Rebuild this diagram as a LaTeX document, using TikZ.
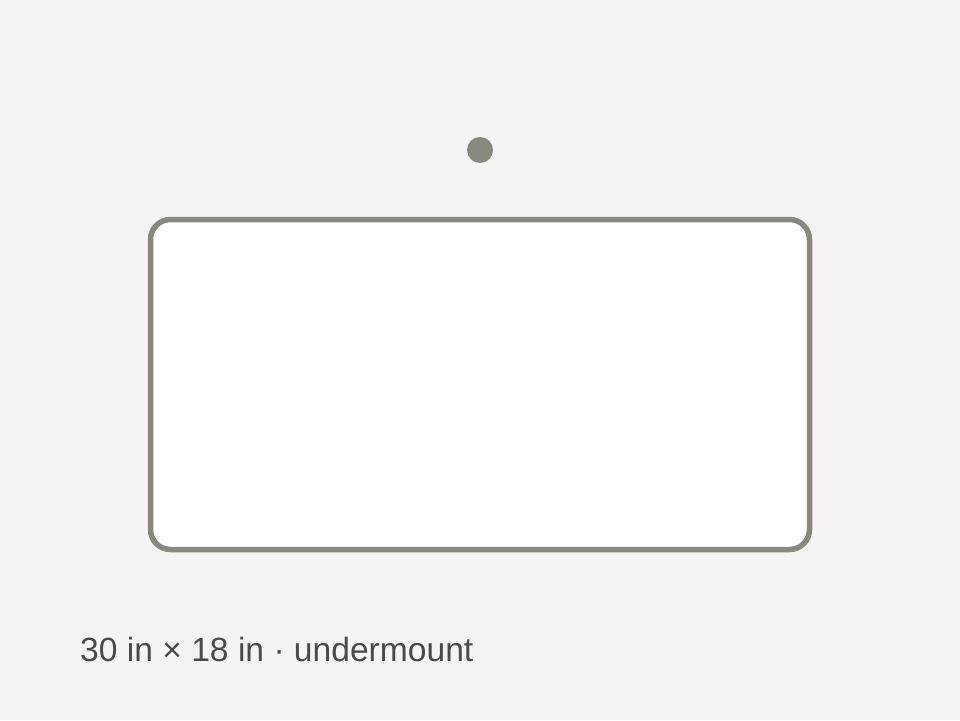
\documentclass[tikz,border=0pt]{standalone}
\usepackage{fontspec}
\setmainfont{Liberation Sans}
\usetikzlibrary{positioning}
\definecolor{paper}{HTML}{F5F4F2}
\definecolor{rim}{HTML}{8A877E}
\definecolor{ink}{HTML}{4A4A4A}
\tikzset{
  basin/.style={rectangle, draw=rim, line width=5.5pt, fill=white, rounded corners=20pt,
    minimum width=659pt, minimum height=330pt, inner sep=0pt},
  tap/.style={circle, fill=rim, inner sep=0pt, minimum size=26pt},
  caption/.style={text=ink, font=\fontsize{33.6}{40}\selectfont, inner sep=0pt}
}
\begin{document}
\begin{tikzpicture}[x=1pt, y=-1pt]
% Background
\fill[paper] (0,0) rectangle (960,720);
\useasboundingbox (0,0) rectangle (960,720);

% Nodes
\node[tap] (faucet) at (480,150) {};
\node[basin] (sink) at (480,384.5) {};
\node[caption, anchor=base west] (label) at (80,661) {30 in × 18 in · undermount};
\end{tikzpicture}
\end{document}
